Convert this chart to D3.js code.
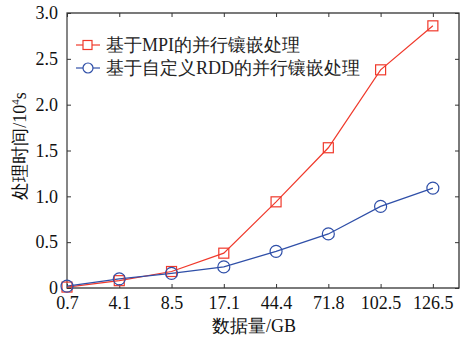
<!DOCTYPE html>
<html><head><meta charset="utf-8">
<script src="https://cdn.jsdelivr.net/npm/d3@7"></script>
</head>
<body style="margin:0;background:#fff">
<svg id="chart" width="468" height="338"></svg>
<script>
const categories = ["0.7","4.1","8.5","17.1","44.4","71.8","102.5","126.5"];
const mpiTimes = [0.01,0.08,0.18,0.38,0.94,1.53,2.38,2.86];
const rddTimes = [0.02,0.10,0.16,0.23,0.40,0.59,0.89,1.09];
const yTicks = [0,0.5,1.0,1.5,2.0,2.5,3.0];
const seriesNames = ["基于MPI的并行镶嵌处理","基于自定义RDD的并行镶嵌处理"];

const FONT = "Liberation Serif";
const svg = d3.select("#chart").attr("font-family", FONT);
const m = {l:67, r:459, t:13, b:288};

const x = d3.scaleLinear().domain([0, categories.length - 0.5]).range([m.l, m.r]);
const y = d3.scaleLinear().domain([0, 3]).range([m.b, m.t]);

// frame
svg.append("rect").attr("x",m.l).attr("y",m.t).attr("width",m.r-m.l).attr("height",m.b-m.t)
  .attr("fill","none").attr("stroke","#222").attr("stroke-width",1.2);
svg.append("line").attr("x1",m.l).attr("x2",m.l).attr("y1",m.t).attr("y2",m.b)
  .attr("stroke","#8a8a8a").attr("stroke-width",1.6);

const idx = d3.range(categories.length);
const fmt = d => d === 0 ? "0" : d3.format(".1f")(d);

// bottom axis, inward ticks
const gx = svg.append("g").attr("transform",`translate(0,${m.b})`)
  .call(d3.axisBottom(x).tickValues(idx).tickFormat(i => categories[i]).tickSize(-4).tickPadding(8));
// top axis ticks
const gxt = svg.append("g").attr("transform",`translate(0,${m.t})`)
  .call(d3.axisTop(x).tickValues(idx).tickFormat("").tickSize(-4));
// left axis
const gy = svg.append("g").attr("transform",`translate(${m.l},0)`)
  .call(d3.axisLeft(y).tickValues(yTicks).tickFormat(fmt).tickSize(-4).tickPadding(9));
// right axis ticks
const gyr = svg.append("g").attr("transform",`translate(${m.r},0)`)
  .call(d3.axisRight(y).tickValues(yTicks).tickFormat("").tickSize(-4));
[gx,gxt,gy,gyr].forEach(g => {
  g.attr("font-family", FONT);
  g.select(".domain").remove();
  g.selectAll(".tick line").attr("stroke","#333");
  g.selectAll("text").attr("font-family", FONT).attr("font-size",18).attr("fill","#111");
});

const line = d3.line().x((d,i) => x(i)).y(d => y(d));
const red = "#f0392b", blue = "#2f4fa8";

svg.append("path").datum(mpiTimes).attr("d",line).attr("fill","none").attr("stroke",red).attr("stroke-width",1.2);
svg.append("path").datum(rddTimes).attr("d",line).attr("fill","none").attr("stroke",blue).attr("stroke-width",1.2);

svg.selectAll(".sq").data(mpiTimes).join("rect")
  .attr("x",(d,i)=>x(i)-5).attr("y",d=>y(d)-5).attr("width",10).attr("height",10)
  .attr("fill","none").attr("stroke",red).attr("stroke-width",1.2);
svg.selectAll(".ci").data(rddTimes).join("circle")
  .attr("cx",(d,i)=>x(i)).attr("cy",d=>y(d)).attr("r",6)
  .attr("fill","none").attr("stroke",blue).attr("stroke-width",1.2);

// legend
const lg = svg.append("g");
[[red,"sq"],[blue,"ci"]].forEach(([c,t],k) => {
  const yy = 45 + k*23;
  lg.append("line").attr("x1",76).attr("x2",100).attr("y1",yy).attr("y2",yy).attr("stroke",c).attr("stroke-width",1.2);
  if (t==="sq") lg.append("rect").attr("x",83).attr("y",yy-4.5).attr("width",9).attr("height",9).attr("fill","#fff").attr("stroke",c).attr("stroke-width",1.2);
  else lg.append("circle").attr("cx",88).attr("cy",yy).attr("r",5).attr("fill","#fff").attr("stroke",c).attr("stroke-width",1.2);
  lg.append("text").attr("x",106).attr("y",yy+6).attr("font-family",FONT).attr("font-size",18).attr("fill","#222").text(seriesNames[k]);
});

// axis titles
svg.append("text").attr("x",254).attr("y",332).attr("text-anchor","middle").attr("font-family",FONT)
  .attr("font-size",18).attr("fill","#111").text("数据量/GB");
const yt = svg.append("text").attr("transform",`translate(26,146) rotate(-90)`).attr("font-family",FONT)
  .attr("text-anchor","middle").attr("font-size",18).attr("fill","#111");
yt.append("tspan").text("处理时间/10");
yt.append("tspan").attr("font-size",11).attr("dy",-7).text("4");
yt.append("tspan").attr("dy",7).text("s");
</script>
</body></html>
